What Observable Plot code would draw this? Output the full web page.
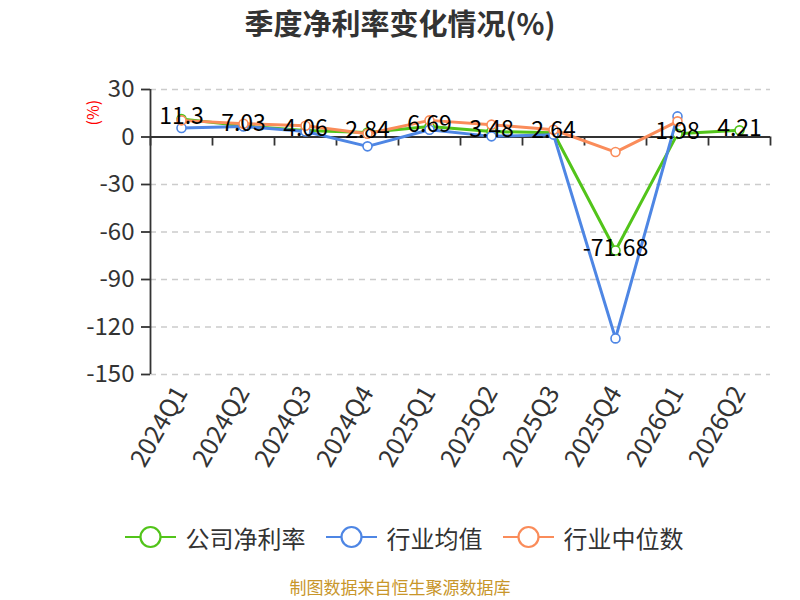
<!DOCTYPE html>
<html>
<head>
<meta charset="utf-8">
<script src="https://cdn.jsdelivr.net/npm/d3@7"></script>
<script src="https://cdn.jsdelivr.net/npm/@observablehq/plot@0.6"></script>
<style>
  body { margin: 0; background: #fff; font-family: "Noto Sans CJK SC", "Noto Sans", sans-serif; }
  #wrap { width: 800px; height: 600px; position: relative; }
  #title { height: 45px; line-height: 45px; text-align: center; font-size: 29px; font-weight: bold; color: #333; }
  #legend { height: 44px; display: flex; justify-content: center; align-items: center; font-size: 24px; color: #333; padding-left: 8px; }
  .item { display: flex; align-items: center; margin: 0 10px; }
  .item svg { margin-right: 10px; }
  #footer { position: absolute; top: 577px; left: 0; width: 800px; height: 20px; line-height: 20px; text-align: center; font-size: 17px; color: #c8962a; }
</style>
</head>
<body>
<div id="wrap">
  <div id="title">季度净利率变化情况(%)</div>
  <div id="chart"></div>
  <div id="legend"></div>
  <div id="footer">制图数据来自恒生聚源数据库</div>
</div>
<script>
const quarters = ["2024Q1","2024Q2","2024Q3","2024Q4","2025Q1","2025Q2","2025Q3","2025Q4","2026Q1","2026Q2"];
const company = [11.3, 7.03, 4.06, 2.84, 6.69, 3.48, 2.64, -71.68, 1.98, 4.21];
const industryMean = [5.7, 6.7, 3.5, -5.9, 4.6, 0.4, 1.5, -127.2, 13, null];
const industryMedian = [10.5, 8.4, 7.1, 2.1, 10.5, 7.8, 4.6, -9.5, 9.9, null];
const seriesNames = ["公司净利率", "行业均值", "行业中位数"];
const seriesColors = ["#52c41a", "#4e86e4", "#fa8c5a"];
const yTicks = [30, 0, -30, -60, -90, -120, -150];
const gridTicks = [30, -30, -60, -90, -120, -150];

const seriesValues = [company, industryMean, industryMedian];
const rows = [];
seriesValues.forEach((vals, si) => {
  vals.forEach((v, i) => {
    rows.push({q: quarters[i], value: v, series: seriesNames[si]});
  });
});
const companyRows = rows.filter(d => d.series === seriesNames[0]);

const W = 800, H = 470, ML = 150, MR = 30;
const half = (W - ML - MR) / quarters.length / 2;

const marks = [
  Plot.ruleY(gridTicks, {stroke: "#cccccc", strokeWidth: 1.3, strokeDasharray: "6,5"}),
  Plot.ruleY([0], {stroke: "#333", strokeWidth: 1.8}),
  Plot.ruleX([quarters[0]], {dx: -half, y1: -150, y2: 30, stroke: "#333", strokeWidth: 1.8}),
  Plot.ruleX(quarters, {x: d => d, dx: -half, y1: 0, y2: -5.7, stroke: "#333", strokeWidth: 1.8}),
  Plot.ruleX([quarters[quarters.length - 1]], {dx: half, y1: 0, y2: -5.7, stroke: "#333", strokeWidth: 1.8}),
  Plot.axisY({ticks: yTicks, tickSize: 9, tickPadding: 7, fontSize: 24, label: null, stroke: "#333", strokeWidth: 1.8, tickFormat: d => String(d)}),
  Plot.axisX({anchor: "bottom", tickSize: 0, tickPadding: 14, tickRotate: -60, fontSize: 25, label: null}),
];
seriesNames.forEach((name, si) => {
  const data = rows.filter(d => d.series === name && d.value != null);
  marks.push(Plot.line(data, {x: "q", y: "value", stroke: seriesColors[si], strokeWidth: 3}));
  marks.push(Plot.dot(data, {x: "q", y: "value", r: 4.5, fill: "#fff", stroke: seriesColors[si], strokeWidth: 1.6}));
});
marks.push(Plot.text(companyRows, {x: "q", y: "value", text: d => String(d.value), fontSize: 23, fill: "#000", dy: -2}));
marks.push(Plot.text(["(%)"], {frameAnchor: "top-left", dx: -63, dy: 36, rotate: -90, fill: "red", fontSize: 16}));

const chart = Plot.plot({
  width: W, height: H,
  marginLeft: ML, marginRight: MR, marginTop: 44, marginBottom: 141,
  style: {color: "#333", fontFamily: "'Noto Sans CJK SC', 'Noto Sans', sans-serif", fontSize: "20px", background: "#fff"},
  x: {type: "band", domain: quarters, padding: 0, axis: null},
  y: {domain: [-150, 30], axis: null},
  marks
});
document.getElementById("chart").appendChild(chart);

const legend = document.getElementById("legend");
seriesNames.forEach((name, si) => {
  const item = document.createElement("div");
  item.className = "item";
  item.innerHTML = `<svg width="51" height="24"><line x1="0" y1="12" x2="51" y2="12" stroke="${seriesColors[si]}" stroke-width="2.2"/><circle cx="25.5" cy="12" r="10" fill="#fff" stroke="${seriesColors[si]}" stroke-width="2.2"/></svg><span>${name}</span>`;
  legend.appendChild(item);
});
</script>
</body>
</html>
